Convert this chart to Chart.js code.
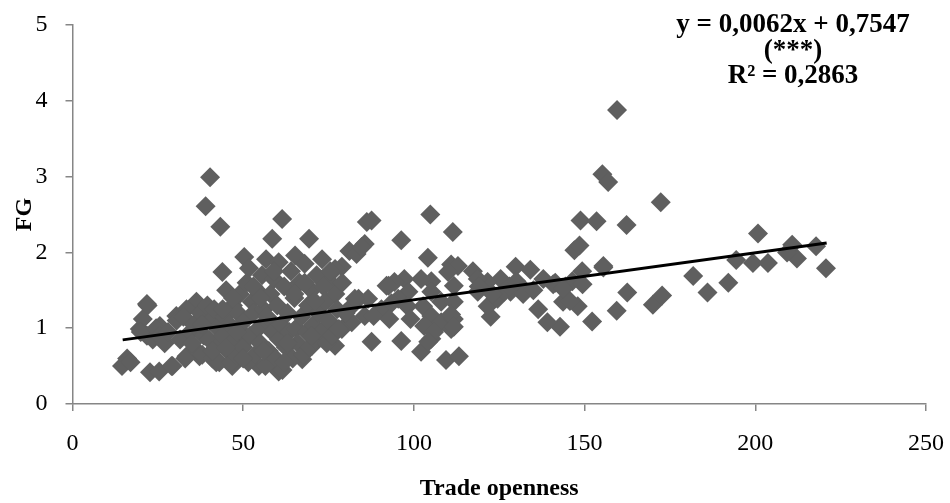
<!DOCTYPE html>
<html>
<head>
<meta charset="utf-8">
<script src="https://cdn.jsdelivr.net/npm/chart.js@4/dist/chart.umd.min.js"></script>
<style>
html,body{margin:0;padding:0;background:#fff;}
#wrap{width:950px;height:503px;position:relative;}
</style>
</head>
<body>
<div id="wrap"><canvas id="c" width="950" height="503"></canvas></div>
<script>
// Trade openness (x) and FG (y)
const tradeOpenness = [
159.5,155.2,156.9,172.3,148.8,153.5,162.3,147,148.5,155.5,149.3,162.5,159.4,152.2,170,172.7,142.8,139.1,148,143.7,145.7,141.4,144.4,146.4,149.4,
200.8,194.4,199.3,203.7,210.8,212.2,209.3,217.8,220.7,181.8,186,192.1,155.5,136.4,
129.8,134.1,137.9,140.8,143.7,132.1,128.3,125.4,121.6,117.3,118.7,122.5,121.6,124.5,126.4,118.7,
110.9,112.9,111.4,104.8,96.3,104.1,86.2,87.6,85.6,81.1,83.2,78.9,76,
110,111.7,105.1,102.1,97.2,92,94.3,98.4,105.1,108,111.7,102.7,105.1,108,110.9,103,105.1,102.1,109.4,113.2,
96.3,87.6,111.7,110.9,90.5,85.6,81.8,78.9,76.9,95.4,93.4,98.1,88.2,92.8,99,83.8,81.8,79.9,105.9,104.2,111.7,
86.6,82.7,92.6,73.1,76.9,75.1,69.3,84.7,67.3,70.2,
128,132,135,130,123,119,
40.3,39,43.3,61.4,58.5,50.3,56.7,60.4,65.2,43.9,51.7,21.8,16,14.5,22.7,25.4,29.3,33.4,60.4,54.6,46.8,42.1,37.2,21.8,25.6,30.4,19.7,20.6,36.3,33.4,
17,20,22,23.5,24.5,25.5,27,28,29,30.5,31.5,32.5,33,34.5,35.5,36.5,37.5,38,38.5,
39.5,40,40.5,41,41.5,42,42.5,43,44,44.5,45,45.5,46,46.5,47,47.5,48,48.5,49,49.5,50,50.5,51,51.5,52,52.5,
53,53.5,54,54.5,55,55.5,56,56.5,57,57.5,58,58.5,59,59.5,60,60.5,61,61.5,62,62.5,63,63.5,64,64.5,65,65.5,
66,66.5,67,67.5,68,68.5,69,69.5,70,70.5,71,71.5,72,73,73.5,74,74.5,75,75.5,76,77,77.5,78,79,80,
44,47,50,53,56,59,62,65,68,71,35,38,41,48,55,63,70,57,45
];
const fgValues = [
3.88,3.03,2.93,2.66,2.42,2.41,2.36,2.03,2.09,1.82,1.75,1.47,1.23,1.09,1.31,1.43,1.02,1.08,1.29,1.35,1.36,1.6,1.55,1.62,1.58,
2.25,1.9,1.86,1.86,2.1,1.92,2.0,2.08,1.79,1.69,1.47,1.6,1.8,1.25,
1.81,1.77,1.65,1.58,1.52,1.52,1.48,1.65,1.61,1.75,1.65,1.15,1.29,1.39,1.48,1.48,
1.84,1.82,2.27,2.5,2.16,1.93,2.4,2.42,2.11,2.02,1.98,1.81,1.58,
1.74,1.56,1.62,1.65,1.65,1.56,1.61,1.48,1.48,1.35,1.35,1.29,1.16,1.08,0.99,1.03,0.86,0.69,0.58,0.63,
0.83,0.82,1.12,1.18,1.25,1.16,1.08,0.99,0.77,1.39,1.33,1.29,1.16,1.12,1.12,1.39,1.29,1.2,0.95,0.82,1.02,
1.39,1.39,1.56,1.91,1.78,1.61,2.18,2.07,0.59,0.77,
1.55,1.45,1.5,1.62,1.45,1.55,
2.99,2.61,2.34,2.44,2.18,1.94,1.91,1.87,1.96,1.74,1.79,1.32,0.6,0.5,0.42,0.43,0.5,0.63,0.43,0.5,0.5,0.55,0.63,0.9,1.03,1.16,0.99,1.12,1.35,1.25,
0.55,0.95,1.3,0.85,1.0,0.9,0.8,0.95,0.5,1.1,0.85,1.15,0.6,0.95,1.05,0.7,1.2,0.65,0.9,
1.3,0.85,1.1,0.6,1.25,0.75,1.0,0.55,0.9,1.15,1.5,0.7,1.05,0.55,1.3,0.85,0.65,1.2,1.45,0.95,0.75,1.1,1.6,0.55,0.9,1.35,
1.2,0.65,1.5,1.0,0.8,1.7,1.25,0.5,1.1,0.7,1.45,0.95,1.65,0.6,1.3,0.85,1.05,0.45,1.55,0.75,1.2,0.95,1.75,0.6,1.4,1.0,
0.8,1.6,1.15,0.65,1.85,0.95,1.3,0.75,1.5,1.05,0.85,1.7,1.2,0.95,1.55,1.35,0.8,1.1,1.75,0.9,1.45,1.25,0.99,1.6,1.2,
1.25,1.4,0.6,1.55,0.7,1.75,0.55,1.45,1.6,1.35,0.8,1.05,0.7,0.95,1.4,0.8,0.9,1.15,0.75
];
const xTicks = [0, 50, 100, 150, 200, 250];
const yTicks = [0, 1, 2, 3, 4, 5];
const trendSlope = 0.0062, trendIntercept = 0.7547;
const trendX = [14.7, 220.9];
const equationLines = ["y = 0,0062x + 0,7547", "(***)", "R² = 0,2863"];
const xTitle = "Trade openness", yTitle = "FG";

const scatterPts = tradeOpenness.map((x, i) => ({x: x, y: fgValues[i]}));
const trendPts = trendX.map(x => ({x: x, y: trendSlope * x + trendIntercept}));

Chart.defaults.font.family = '"Liberation Serif", "Times New Roman", serif';
Chart.defaults.color = '#000';

const eqPlugin = {
  id: 'eq',
  afterDraw(chart) {
    const ctx = chart.ctx;
    ctx.save();
    ctx.fillStyle = '#000';
    ctx.font = 'bold 27px "Liberation Serif", "Times New Roman", serif';
    ctx.textAlign = 'center';
    ctx.textBaseline = 'alphabetic';
    const base = [32, 58, 83];
    equationLines.forEach((t, i) => ctx.fillText(t, 793, base[i]));
    ctx.restore();
  }
};

new Chart(document.getElementById('c'), {
  type: 'scatter',
  data: {
    datasets: [
      {
        data: scatterPts,
        pointStyle: 'rectRot',
        pointRadius: 10,
        pointHoverRadius: 10,
        backgroundColor: '#5f5f5f',
        borderColor: '#5f5f5f',
        borderWidth: 0,
        order: 2
      },
      {
        type: 'line',
        data: trendPts,
        borderColor: '#000',
        borderWidth: 3,
        pointRadius: 0,
        fill: false,
        order: 1
      }
    ]
  },
  options: {
    responsive: false,
    animation: false,
    events: [],
    layout: {padding: {left: 0, right: 24, top: 25, bottom: 0}},
    plugins: {legend: {display: false}, tooltip: {enabled: false}},
    scales: {
      x: {
        type: 'linear', min: 0, max: 250,
        afterBuildTicks: s => { s.ticks = xTicks.map(v => ({value: v})); },
        afterFit: s => { s.height = 99; s.paddingLeft = 0; s.paddingRight = 0; },
        ticks: {font: {size: 24}, color: '#000', padding: 18},
        grid: {drawOnChartArea: false, drawTicks: true, tickLength: 7, color: '#868686', lineWidth: 1.5},
        border: {color: '#868686', width: 1.5},
        title: {display: true, text: xTitle, font: {size: 24, weight: 'bold'}, color: '#000', padding: {top: 0, bottom: 0}}
      },
      y: {
        type: 'linear', min: 0, max: 5,
        afterBuildTicks: s => { s.ticks = yTicks.map(v => ({value: v})); },
        afterFit: s => { s.width = 72.5; s.paddingTop = 0; s.paddingBottom = 0; },
        ticks: {font: {size: 24}, color: '#000', padding: 18},
        grid: {drawOnChartArea: false, drawTicks: true, tickLength: 7, color: '#868686', lineWidth: 1.5},
        border: {color: '#868686', width: 1.5},
        title: {display: true, text: yTitle, font: {size: 24, weight: 'bold'}, color: '#000', padding: {top: 10, bottom: 0}}
      }
    }
  },
  plugins: [eqPlugin]
});
</script>
</body>
</html>
